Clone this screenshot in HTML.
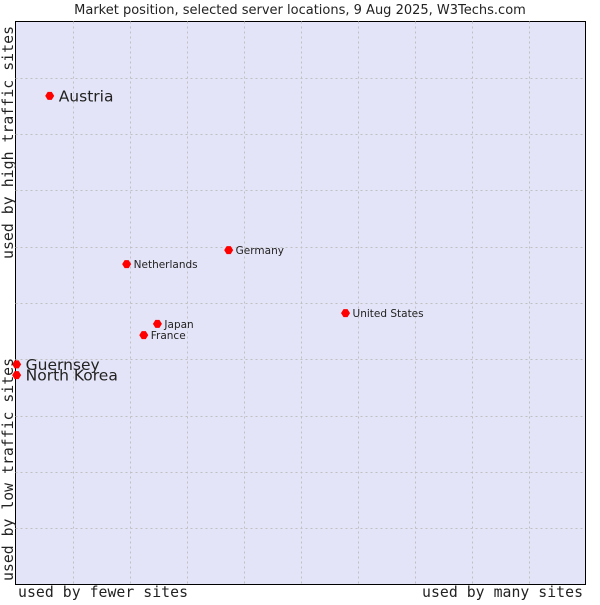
<!DOCTYPE html>
<html><head><meta charset="utf-8"><style>
body{margin:0;background:#fff}
svg text{font-family:"DejaVu Sans","Liberation Sans",sans-serif;fill:#222}
.mono{font-family:"DejaVu Sans Mono","Liberation Mono",monospace}
</style></head><body>
<svg id="chart" width="600" height="600">
<text x="300" y="14" text-anchor="middle" font-size="13">Market position, selected server locations, 9 Aug 2025, W3Techs.com</text>
<rect x="15.5" y="21.5" width="570" height="563" fill="#e4e4f8" stroke="#000"/>
<g id="grid"></g>
<g id="points"></g>
<text class="mono" x="18" y="597" font-size="14.8" textLength="170">used by fewer sites</text>
<text class="mono" x="422" y="597" font-size="14.8" textLength="161">used by many sites</text>
<text class="mono" transform="translate(13,581) rotate(-90)" font-size="14.8" textLength="223">used by low traffic sites</text>
<text class="mono" transform="translate(13,259) rotate(-90)" font-size="14.8" textLength="233">used by high traffic sites</text>
</svg>
<script>
const names=["Austria","Netherlands","Germany","United States","Japan","France","Guernsey","North Korea"];
const xVals=[0.6,1.95,3.74,5.79,2.49,2.25,0.02,0.02];
const yVals=[8.68,5.69,5.94,4.82,4.63,4.43,3.91,3.72];
const big=[true,false,false,false,false,false,true,true];
const NS="http://www.w3.org/2000/svg";
const L=15.5,R=585.5,T=21.5,B=584.5;
const xs=v=>L+(R-L)*v/10, ys=v=>B-(B-T)*v/10;
const grid=document.getElementById('grid');
for(let i=1;i<10;i++){
 let l=document.createElementNS(NS,'line');
 
 
 l.setAttribute('x1',Math.round(xs(i))+0.5);l.setAttribute('x2',Math.round(xs(i))+0.5);l.setAttribute('y1',T);l.setAttribute('y2',B);
 l.setAttribute('stroke','#c0c0c0');l.setAttribute('stroke-dasharray','2,3');grid.appendChild(l);
 let h=document.createElementNS(NS,'line');
 
 
 h.setAttribute('y1',Math.round(ys(i))+0.5);h.setAttribute('y2',Math.round(ys(i))+0.5);h.setAttribute('x1',L);h.setAttribute('x2',R);
 h.setAttribute('stroke','#c0c0c0');h.setAttribute('stroke-dasharray','2,3');grid.appendChild(h);
}
const pts=document.getElementById('points');
names.forEach((n,i)=>{
 const x=xs(xVals[i]),y=ys(yVals[i]);
 let c=document.createElementNS(NS,'path');
 
 
 c.setAttribute('d',`M${x-4.5},${y} L${x-2},${y-4} L${x+2},${y-4} L${x+4.5},${y} L${x+2},${y+4} L${x-2},${y+4} Z`);
 c.setAttribute('fill','#f00');pts.appendChild(c);
 let t=document.createElementNS(NS,'text');
 
 
 t.setAttribute('x',x+(big[i]?9:7));t.setAttribute('y',y+(big[i]?5.5:4));
 t.setAttribute('font-size',big[i]?15.5:10.5);t.textContent=n;pts.appendChild(t);
});
</script>
</body></html>
